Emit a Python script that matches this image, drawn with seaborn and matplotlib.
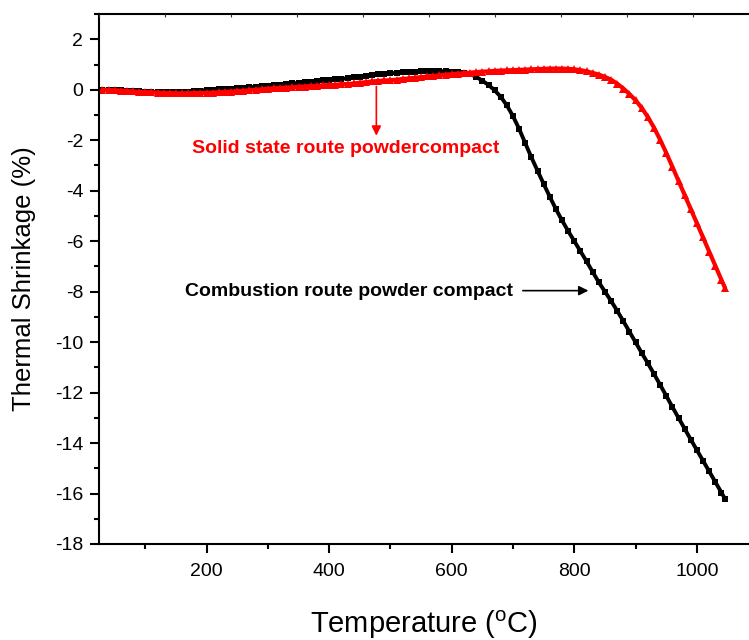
"""
Thermal shrinkage (dilatometry) curves of the two powder compacts.
"""

import matplotlib
matplotlib.use('Agg')
import matplotlib.pyplot as plt
from matplotlib.ticker import MultipleLocator
import seaborn as sns
import numpy as np

# Temperature grid (deg C) at which the curves were read
temperature = list(range(30, 1050, 10)) + [1046]

# Combustion route powder compact (%)
combustion = [
    0.00, 0.00, -0.01, -0.02, -0.03, -0.05, -0.06, -0.07, -0.08, -0.09,
    -0.10, -0.10, -0.10, -0.10, -0.08, -0.05, -0.03, -0.01, 0.01, 0.03,
    0.04, 0.05, 0.06, 0.08, 0.10, 0.12, 0.14, 0.16, 0.18, 0.20,
    0.23, 0.25, 0.27, 0.30, 0.32, 0.34, 0.37, 0.39, 0.41, 0.43,
    0.46, 0.49, 0.52, 0.55, 0.58, 0.61, 0.63, 0.65, 0.67, 0.69,
    0.71, 0.72, 0.73, 0.74, 0.74, 0.74, 0.73, 0.72, 0.71, 0.68,
    0.62, 0.51, 0.36, 0.19, -0.02, -0.28, -0.62, -1.05, -1.55, -2.12,
    -2.68, -3.21, -3.73, -4.24, -4.73, -5.18, -5.60, -6.00, -6.40, -6.80,
    -7.22, -7.63, -8.00, -8.37, -8.76, -9.17, -9.59, -10.01, -10.43, -10.84,
    -11.26, -11.69, -12.13, -12.57, -13.00, -13.43, -13.86, -14.28, -14.70, -15.12,
    -15.54, -15.96,
    -16.22,
]

# Solid state route powder compact (%)
solid_state = [
    0.00, -0.01, -0.02, -0.03, -0.05, -0.06, -0.08, -0.09, -0.10, -0.11,
    -0.12, -0.13, -0.14, -0.14, -0.14, -0.13, -0.13, -0.12, -0.11, -0.10,
    -0.08, -0.07, -0.05, -0.04, -0.02, 0.00, 0.02, 0.04, 0.06, 0.07,
    0.09, 0.10, 0.12, 0.13, 0.15, 0.16, 0.18, 0.19, 0.20, 0.22,
    0.23, 0.25, 0.28, 0.30, 0.33, 0.35, 0.37, 0.38, 0.40, 0.43,
    0.45, 0.48, 0.50, 0.53, 0.55, 0.57, 0.60, 0.62, 0.64, 0.66,
    0.68, 0.70, 0.72, 0.73, 0.75, 0.76, 0.77, 0.78, 0.79, 0.80,
    0.81, 0.82, 0.83, 0.84, 0.84, 0.84, 0.83, 0.81, 0.78, 0.73,
    0.67, 0.60, 0.51, 0.40, 0.24, 0.05, -0.17, -0.42, -0.72, -1.08,
    -1.50, -1.98, -2.50, -3.05, -3.61, -4.17, -4.73, -5.29, -5.85, -6.41,
    -6.97, -7.53,
    -7.86,
]

label_solid = 'Solid state route powdercompact'
label_comb = 'Combustion route powder compact'

sns.set_style('ticks')
plt.rcParams['font.family'] = ['Liberation Sans', 'DejaVu Sans']
plt.rcParams['mathtext.fontset'] = 'custom'
plt.rcParams['mathtext.rm'] = 'Liberation Sans'
plt.rcParams['axes.unicode_minus'] = False
plt.rcParams['text.color'] = 'black'
plt.rcParams['axes.labelcolor'] = 'black'
plt.rcParams['xtick.color'] = 'black'
plt.rcParams['ytick.color'] = 'black'

fig = plt.figure(figsize=(7.49, 6.40), dpi=100)
ax = fig.add_axes([0.1326, 0.15, 0.8674, 0.828])

sns.lineplot(x=temperature, y=combustion, color='black', marker='s',
             markersize=4.2, markeredgewidth=0, linewidth=2.8, ax=ax)
sns.lineplot(x=temperature, y=solid_state, color='#ff0000', marker='^',
             markersize=5.5, markeredgewidth=0, linewidth=3.0, ax=ax)

ax.set_xlim(25, 1085)
ax.set_ylim(-18, 3)

ax.xaxis.set_major_locator(MultipleLocator(200))
ax.xaxis.set_minor_locator(MultipleLocator(100))
ax.yaxis.set_major_locator(MultipleLocator(2))
ax.yaxis.set_minor_locator(MultipleLocator(1))

ax.tick_params(which='major', direction='out', length=6.5, width=1.5,
               labelsize=14, color='black', labelcolor='black')
ax.tick_params(axis='x', which='major', pad=7)
ax.tick_params(axis='y', which='major', pad=5)
ax.tick_params(which='minor', direction='out', length=3.5, width=1.5,
               color='black')

for side in ['left', 'bottom', 'top']:
    ax.spines[side].set_linewidth(1.5)
    ax.spines[side].set_color('black')
ax.spines['right'].set_visible(False)

# tiny inward ticks on the top frame
ax_top = ax.twiny()
ax_top.set_xlim(0, 649.7 / 66)
ax_top.xaxis.set_major_locator(MultipleLocator(1))
ax_top.tick_params(axis='x', direction='in', length=2.5, width=0.8,
                   labeltop=False, color='#333333')
for side in ax_top.spines:
    ax_top.spines[side].set_visible(False)

ax.set_xlabel('Temperature ($^{\\mathrm{o}}$C)', fontsize=21, color='black')
ax.set_ylabel('Thermal Shrinkage (%)', fontsize=18.5, color='black')
ax.xaxis.set_label_coords(0.5, -0.122)
ax.yaxis.set_label_coords(-0.098, 0.5)

# annotations
ax.text(177, -2.49, label_solid, color='#ff0000', fontsize=14,
        fontweight='bold', ha='left', va='baseline')
ax.annotate('', xy=(477, -1.82), xytext=(477, 0.13),
            arrowprops=dict(arrowstyle='-|>', color='#ff0000', lw=1.2,
                            mutation_scale=14, shrinkA=0, shrinkB=0))

ax.text(164, -8.17, label_comb, color='black', fontsize=14,
        fontweight='bold', ha='left', va='baseline')
ax.annotate('', xy=(823, -7.96), xytext=(716, -7.96),
            arrowprops=dict(arrowstyle='-|>', color='black', lw=1.2,
                            mutation_scale=14, shrinkA=0, shrinkB=0))

plt.savefig('out.png', dpi=100)
